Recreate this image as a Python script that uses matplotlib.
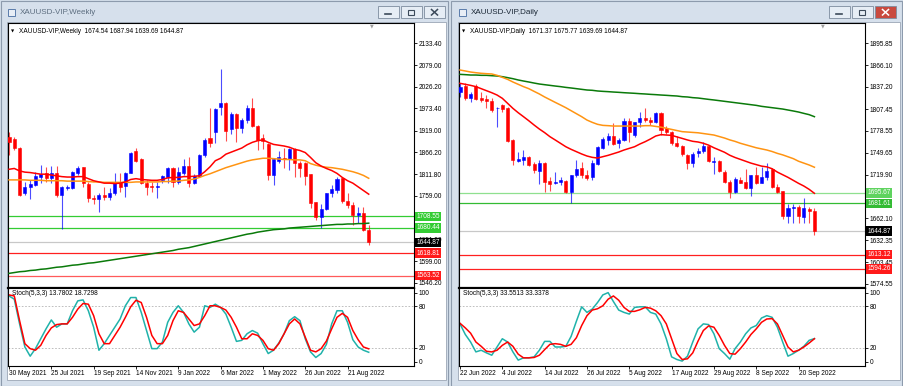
import numpy as np
import matplotlib
matplotlib.use('Agg')
import matplotlib.pyplot as plt
from matplotlib.patches import Rectangle
import matplotlib.transforms as mtransforms

plt.rcParams['font.family'] = ['Liberation Sans', 'DejaVu Sans']

# ---------------- weekly chart data (30 May 2021 .. 18 Sep 2022) ----------------
w_open = [1902, 1898, 1877, 1765, 1780, 1785, 1806, 1814, 1802, 1814,
          1761, 1778, 1778, 1816, 1829, 1788, 1754, 1750, 1761, 1757,
          1767, 1792, 1783, 1816, 1870, 1848, 1790, 1783, 1780, 1798,
          1806, 1828, 1794, 1816, 1833, 1791, 1808, 1859, 1900, 1916,
          1976, 1987, 1923, 1959, 1924, 1945, 1973, 1931, 1900, 1886,
          1810, 1845, 1851, 1849, 1873, 1839, 1839, 1812, 1745, 1706,
          1726, 1765, 1773, 1802, 1747, 1737, 1712, 1716, 1674.54]
w_high = [1916, 1902, 1878, 1794, 1798, 1818, 1834, 1830, 1832, 1832,
          1782, 1786, 1820, 1832, 1830, 1794, 1761, 1765, 1781, 1777,
          1814, 1814, 1817, 1867, 1875, 1851, 1798, 1794, 1794, 1810,
          1830, 1830, 1829, 1848, 1855, 1812, 1861, 1900, 1973, 1973,
          2070, 1990, 1965, 1961, 1949, 1981, 1999, 1932, 1910, 1888,
          1851, 1870, 1875, 1875, 1875, 1845, 1843, 1812, 1745, 1739,
          1767, 1785, 1806, 1802, 1765, 1745, 1732, 1732, 1687.94]
w_low = [1860, 1871, 1758, 1761, 1750, 1783, 1791, 1794, 1791, 1757,
         1677, 1773, 1775, 1810, 1781, 1745, 1738, 1720, 1749, 1749,
         1761, 1769, 1757, 1814, 1843, 1788, 1761, 1769, 1753, 1790,
         1790, 1781, 1788, 1810, 1781, 1788, 1804, 1855, 1878, 1889,
         1957, 1894, 1910, 1892, 1914, 1937, 1928, 1871, 1873, 1798,
         1785, 1839, 1826, 1822, 1804, 1804, 1785, 1728, 1700, 1679,
         1724, 1757, 1767, 1742, 1728, 1688, 1692, 1674, 1639.69]
w_close = [1890, 1875, 1761, 1781, 1787, 1808, 1812, 1802, 1814, 1761,
           1781, 1781, 1818, 1828, 1790, 1754, 1750, 1761, 1757, 1767,
           1794, 1781, 1816, 1865, 1845, 1790, 1781, 1781, 1783, 1808,
           1828, 1794, 1818, 1832, 1790, 1808, 1859, 1896, 1888, 1971,
           1987, 1919, 1959, 1924, 1945, 1973, 1930, 1896, 1894, 1810,
           1848, 1853, 1848, 1873, 1840, 1826, 1808, 1742, 1706, 1726,
           1767, 1776, 1799, 1747, 1737, 1712, 1716, 1675, 1644.87]
w_ma_red = [1824, 1826, 1820, 1817, 1816, 1814, 1812, 1812, 1810, 1808,
            1806, 1805, 1805, 1806, 1806, 1801, 1796, 1793, 1790, 1790,
            1789, 1790, 1793, 1799, 1801, 1799, 1798, 1797, 1797, 1799,
            1803, 1804, 1804, 1806, 1806, 1807, 1808, 1818, 1830, 1845,
            1851, 1861, 1866, 1871, 1876, 1884, 1890, 1894, 1896, 1890,
            1885, 1883, 1881, 1878, 1873, 1870, 1865, 1853, 1840, 1832,
            1826, 1821, 1814, 1804, 1796, 1790, 1781, 1772, 1763]
w_ma_orange = [1798, 1798, 1798, 1798, 1797, 1797, 1797, 1796, 1796, 1796,
               1796, 1795, 1795, 1795, 1795, 1794, 1793, 1793, 1792, 1792,
               1792, 1792, 1792, 1792, 1793, 1793, 1793, 1793, 1793, 1794,
               1794, 1795, 1795, 1797, 1798, 1800, 1804, 1809, 1813, 1818,
               1823, 1828, 1832, 1836, 1840, 1844, 1847, 1849, 1851, 1851,
               1850, 1849, 1848, 1848, 1847, 1847, 1845, 1838, 1834, 1831,
               1829, 1828, 1826, 1824, 1821, 1818, 1814, 1809, 1802]
w_ma_green = [1569, 1571, 1573, 1574, 1576, 1577, 1579, 1580, 1582, 1584,
              1585, 1587, 1589, 1590, 1592, 1594, 1595, 1597, 1599, 1601,
              1603, 1605, 1607, 1609, 1611, 1613, 1615, 1617, 1619, 1621,
              1623, 1625, 1628, 1630, 1632, 1635, 1638, 1641, 1644, 1647,
              1650, 1653, 1656, 1659, 1662, 1665, 1667, 1670, 1672, 1674,
              1676, 1677, 1678, 1680, 1681, 1682, 1683, 1684, 1685, 1686,
              1687, 1688, 1689, 1689, 1690, 1690, 1691, 1691, 1692]
w_stoch_k = [95.2, 90.5, 54.8, 21.4, 8.1, 19.0, 33.3, 47.6, 60.5, 50.0,
             54.8, 54.8, 73.8, 88.1, 89.5, 73.8, 50.0, 16.7, 26.2, 38.1,
             50.0, 61.9, 81.0, 92.9, 92.9, 71.4, 45.2, 19.0, 19.0, 28.6,
             57.1, 71.4, 81.0, 71.4, 54.8, 42.9, 50.0, 81.0, 78.6, 83.3,
             78.6, 69.0, 50.0, 29.5, 31.0, 40.5, 45.2, 41.4, 26.2, 11.9,
             16.7, 27.1, 40.5, 59.5, 65.2, 59.5, 33.3, 14.3, 6.2, 11.9,
             25.2, 54.8, 73.8, 73.8, 57.1, 31.9, 21.4, 16.7, 13.7802]
w_stoch_d = [96.7, 95.2, 59.5, 26.2, 19.0, 16.7, 23.8, 38.1, 49.0, 53.8,
             54.8, 54.8, 64.3, 76.2, 84.3, 83.3, 66.7, 40.5, 26.2, 26.2,
             38.1, 50.0, 64.3, 79.5, 89.0, 85.7, 64.3, 38.1, 26.2, 26.2,
             38.1, 59.5, 73.8, 71.4, 61.9, 52.4, 54.8, 66.7, 81.0, 81.0,
             78.6, 74.8, 64.3, 50.0, 33.3, 33.3, 40.5, 38.1, 31.0, 19.0,
             16.7, 26.2, 40.5, 54.8, 61.9, 54.8, 35.7, 16.7, 14.3, 19.0,
             30.0, 47.6, 64.3, 70.0, 64.3, 45.2, 31.9, 21.4, 18.7298]
w_dates = ['30 May 2021', '25 Jul 2021', '19 Sep 2021', '14 Nov 2021', '9 Jan 2022',
           '6 Mar 2022', '1 May 2022', '26 Jun 2022', '21 Aug 2022']
w_yticks = [2133.40, 2079.00, 2026.20, 1973.40, 1919.00, 1866.20, 1811.80,
            1759.00, 1651.80, 1599.00, 1546.20]
w_levels = [1708.55, 1680.44, 1618.81, 1563.52]

# ---------------- daily chart data (22 Jun 2022 .. 23 Sep 2022) ----------------
d_open = [1830.9, 1838.9, 1822.0, 1838.9, 1822.9, 1820.7, 1818.4, 1808.6, 1813.1, 1808.6,
          1766.4, 1738.8, 1739.7, 1743.2, 1734.3, 1725.0, 1736.1, 1711.6, 1708.5, 1709.8,
          1711.6, 1696.5, 1719.6, 1728.5, 1719.6, 1717.4, 1733.9, 1756.1, 1766.4, 1772.1,
          1761.9, 1766.4, 1791.7, 1773.0, 1789.9, 1796.2, 1793.1, 1789.9, 1802.8, 1781.9,
          1777.5, 1762.8, 1758.3, 1746.3, 1736.1, 1748.5, 1752.1, 1758.3, 1737.4, 1738.8,
          1724.1, 1710.7, 1697.4, 1713.0, 1710.7, 1701.8, 1719.6, 1709.4, 1717.4, 1727.2,
          1704.0, 1698.3, 1665.3, 1675.1, 1677.4, 1664.0, 1673.8, 1671.37]
d_high = [1842.0, 1842.0, 1830.9, 1840.7, 1830.9, 1826.4, 1822.0, 1810.9, 1814.0, 1810.9,
          1767.7, 1749.9, 1753.0, 1745.4, 1737.4, 1739.7, 1737.4, 1717.4, 1724.1, 1717.4,
          1713.0, 1719.6, 1739.7, 1737.4, 1726.3, 1739.7, 1758.3, 1770.8, 1775.2, 1788.6,
          1768.6, 1795.3, 1795.3, 1790.8, 1804.2, 1808.6, 1797.5, 1804.2, 1804.2, 1785.0,
          1778.8, 1771.7, 1759.7, 1747.7, 1750.8, 1755.2, 1764.1, 1759.7, 1744.1, 1739.7,
          1726.3, 1713.0, 1717.4, 1717.4, 1727.2, 1719.6, 1730.7, 1730.7, 1736.1, 1728.5,
          1707.6, 1698.3, 1680.9, 1680.9, 1679.6, 1688.5, 1677.4, 1675.77]
d_low = [1824.2, 1819.8, 1816.6, 1819.8, 1816.6, 1808.6, 1804.2, 1784.2, 1804.2, 1764.1,
         1733.0, 1737.4, 1733.0, 1732.1, 1721.9, 1707.2, 1697.4, 1698.3, 1707.2, 1706.3,
         1695.2, 1681.8, 1717.4, 1715.2, 1713.0, 1713.0, 1733.0, 1754.3, 1759.7, 1759.7,
         1755.2, 1765.0, 1764.1, 1770.8, 1784.2, 1790.8, 1786.4, 1788.6, 1773.0, 1774.4,
         1759.7, 1756.6, 1745.0, 1727.2, 1730.7, 1744.1, 1749.4, 1737.4, 1720.9, 1724.1,
         1708.5, 1688.5, 1695.2, 1708.5, 1700.5, 1691.6, 1707.6, 1708.5, 1713.0, 1701.8,
         1695.2, 1660.4, 1655.1, 1655.1, 1655.1, 1655.1, 1655.1, 1639.69]
d_close = [1837.6, 1822.0, 1827.3, 1821.1, 1819.8, 1818.4, 1806.4, 1809.5, 1807.3, 1765.0,
           1739.7, 1741.0, 1744.1, 1733.0, 1726.3, 1735.2, 1709.8, 1707.2, 1710.7, 1713.0,
           1696.5, 1719.6, 1727.7, 1719.6, 1715.2, 1735.2, 1757.5, 1767.7, 1772.1, 1760.6,
           1766.4, 1791.7, 1777.5, 1789.9, 1796.2, 1793.1, 1789.9, 1801.9, 1779.7, 1777.5,
           1761.9, 1758.3, 1747.7, 1736.1, 1747.7, 1752.1, 1758.3, 1738.8, 1738.8, 1725.4,
           1710.7, 1697.4, 1713.8, 1709.4, 1701.8, 1719.6, 1709.4, 1717.4, 1725.4, 1704.0,
           1697.4, 1665.3, 1675.1, 1677.4, 1665.3, 1675.1, 1672.0, 1644.87]
d_ma_red = [1842.0, 1840.7, 1839.3, 1837.6, 1834.9, 1832.2, 1829.5, 1826.4, 1822.0, 1815.3,
            1808.6, 1802.8, 1797.5, 1792.1, 1786.4, 1781.0, 1776.2, 1770.8, 1766.4, 1761.9,
            1757.4, 1753.9, 1750.8, 1747.7, 1745.0, 1743.2, 1742.3, 1744.1, 1745.9, 1748.1,
            1750.3, 1753.0, 1755.2, 1757.4, 1761.0, 1764.1, 1767.7, 1771.7, 1773.5, 1773.0,
            1772.6, 1770.5, 1768.5, 1766.4, 1764.6, 1763.7, 1762.0, 1759.5, 1756.0, 1753.0,
            1750.0, 1746.0, 1743.0, 1740.5, 1738.0, 1735.5, 1733.5, 1731.5, 1730.5, 1728.0,
            1723.5, 1720.0, 1716.5, 1712.5, 1708.5, 1704.9, 1700.5, 1695.2]
d_ma_orange = [1859.8, 1858.5, 1857.1, 1856.2, 1855.4, 1854.9, 1854.5, 1852.7, 1850.0, 1847.3,
               1843.8, 1840.7, 1837.6, 1834.9, 1831.3, 1827.8, 1823.8, 1820.2, 1816.6, 1813.1,
               1809.5, 1805.5, 1801.5, 1797.5, 1793.0, 1789.9, 1787.3, 1785.9, 1785.5, 1785.0,
               1785.0, 1785.0, 1785.0, 1785.0, 1785.0, 1785.5, 1785.5, 1784.5, 1783.5, 1782.0,
               1780.5, 1779.0, 1777.5, 1777.0, 1776.5, 1776.0, 1775.0, 1774.0, 1773.0, 1771.0,
               1769.0, 1766.5, 1764.5, 1762.0, 1760.0, 1758.0, 1756.0, 1754.5, 1753.0, 1751.0,
               1748.5, 1746.5, 1744.0, 1741.5, 1738.0, 1735.5, 1733.0, 1730.0]
d_ma_green = [1854.0, 1853.6, 1853.1, 1853.1, 1852.7, 1852.7, 1852.2, 1851.8, 1850.9, 1849.6,
              1848.2, 1846.5, 1845.1, 1843.8, 1842.4, 1841.1, 1840.2, 1839.3, 1838.4, 1837.6,
              1836.6, 1835.8, 1834.9, 1834.0, 1833.1, 1832.7, 1831.8, 1831.3, 1830.9, 1830.4,
              1830.0, 1829.5, 1829.1, 1828.7, 1828.2, 1827.8, 1827.3, 1826.9, 1826.4, 1826.0,
              1825.5, 1825.1, 1824.2, 1823.8, 1822.9, 1822.4, 1821.5, 1820.6, 1819.8, 1818.9,
              1818.0, 1817.1, 1816.2, 1815.3, 1814.4, 1813.5, 1812.6, 1811.3, 1810.4, 1809.5,
              1808.6, 1807.7, 1806.4, 1805.1, 1803.7, 1801.9, 1800.2, 1797.5]
d_stoch_k = [54.8, 39.5, 28.6, 14.3, 16.7, 12.9, 9.5, 21.4, 33.3, 28.6,
             14.3, 2.4, 5.7, 5.7, 7.1, 16.7, 29.5, 29.5, 21.4, 21.4,
             22.4, 36.7, 58.6, 79.5, 71.4, 76.2, 85.7, 96.7, 100.0, 87.1,
             74.8, 71.4, 69.0, 78.6, 79.5, 79.5, 71.4, 69.0, 54.8, 33.3,
             7.1, 3.3, 1.0, 8.1, 28.6, 47.6, 54.8, 53.8, 40.5, 19.0,
             11.9, 3.8, 19.0, 28.6, 40.5, 49.0, 52.4, 63.3, 66.7, 64.3,
             50.0, 28.6, 8.1, 11.9, 16.7, 22.4, 31.0, 33.5513]
d_stoch_d = [55.7, 49.0, 41.4, 28.6, 22.4, 15.2, 14.3, 16.7, 23.8, 28.6,
             22.4, 11.0, 5.7, 5.7, 6.2, 9.5, 17.6, 25.2, 26.2, 25.2,
             22.4, 25.2, 34.8, 52.4, 66.7, 74.8, 76.7, 81.0, 90.5, 95.2,
             89.0, 78.6, 72.9, 72.9, 75.2, 78.6, 77.6, 73.8, 66.7, 54.8,
             33.3, 11.9, 3.3, 4.3, 12.9, 30.0, 45.2, 51.9, 50.0, 38.1,
             23.8, 11.9, 11.0, 19.0, 28.6, 39.5, 47.6, 57.1, 61.9, 62.4,
             54.8, 38.1, 21.4, 14.3, 16.7, 21.4, 27.1, 33.3378]
d_dates = ['22 Jun 2022', '4 Jul 2022', '14 Jul 2022', '26 Jul 2022', '5 Aug 2022',
           '17 Aug 2022', '29 Aug 2022', '8 Sep 2022', '20 Sep 2022']
d_yticks = [1895.85, 1866.10, 1837.20, 1807.45, 1778.55, 1749.65, 1719.90,
            1662.10, 1632.35, 1603.45, 1574.55]
d_levels = [1695.67, 1681.61, 1613.12, 1594.26]

FS = 4.7
W, H = 904, 386
fig = plt.figure(figsize=(W / 100, H / 100), dpi=100)
fig.patch.set_facecolor('#d3deea')


def px_axes(x0, y0, x1, y1):
    return fig.add_axes([x0 / W, 1 - y1 / H, (x1 - x0) / W, (y1 - y0) / H])


# window chrome
bg = px_axes(0, 0, W, H)
bg.set_xlim(0, W)
bg.set_ylim(H, 0)
bg.axis('off')
for wx0, wx1, active, title in [(0, 449, False, 'XAUUSD-VIP,Weekly'),
                                (451, 903, True, 'XAUUSD-VIP,Daily')]:
    bg.add_patch(Rectangle((wx0 + 0.5, 0.5), wx1 - wx0 - 1, H - 1, facecolor='#d6e0ec',
                           edgecolor='#8d9bad', lw=0.8))
    bg.add_patch(Rectangle((wx0 + 7, 21.5), wx1 - wx0 - 10, 358.5, facecolor='white',
                           edgecolor='#9aa6b5', lw=0.6))
    bg.add_patch(Rectangle((wx0 + 8, 9), 7, 7, facecolor='#e8eef6', edgecolor='#5a7cab', lw=0.7))
    bg.text(wx0 + 20, 12.5, title, fontsize=5.8, va='center', ha='left',
            color='#1b2836' if active else '#5d6e80')
    for k, (b0, b1) in enumerate([(378, 399), (401, 422), (424, 445)]):
        fc = '#c94a3f' if (active and k == 2) else '#e6edf5'
        bg.add_patch(Rectangle((wx0 + b0, 6), b1 - b0, 12, facecolor=fc,
                               edgecolor='#7d8c9e', lw=0.6))
        cx = wx0 + (b0 + b1) / 2
        gc = 'white' if (active and k == 2) else '#3c4a5a'
        if k == 0:
            bg.plot([cx - 3, cx + 3], [14, 14], color=gc, lw=1.2)
        elif k == 1:
            bg.add_patch(Rectangle((cx - 3, 9.5), 6, 5, facecolor='none', edgecolor=gc, lw=0.8))
        else:
            bg.plot([cx - 3, cx + 3], [9.5, 15], color=gc, lw=1.1)
            bg.plot([cx - 3, cx + 3], [15, 9.5], color=gc, lw=1.1)


def chart(px, o, h, l, c, ma_r, ma_o, ma_g, sk, sd, ylim, yticks, levels, level_cols,
          header, stoch_head, dates):
    o, h, l, c = map(np.asarray, (o, h, l, c))
    x = np.arange(len(c))
    ax = px_axes(px, 23, px + 406, 288)
    st = px_axes(px, 288, px + 406, 366)
    xlim = (-0.19, 76.56)

    # level lines
    for lv, (lc, bc) in zip(levels, level_cols):
        ax.axhline(lv, color=lc, lw=0.9, zorder=1)
    ax.axhline(c[-1], color='#c8c8c8', lw=0.9, zorder=1)

    # candles
    up = c >= o
    col = np.where(up, '#0000ff', '#ff0000')
    ax.vlines(x, l, h, colors=col, lw=0.8, alpha=0.7, zorder=2)
    ax.bar(x, np.abs(c - o), bottom=np.minimum(o, c), width=0.58, color=col,
           edgecolor=col, lw=0.4, zorder=3)

    # moving averages
    ax.plot(x, ma_g, color='#0a7a0a', lw=1.1, zorder=4)
    ax.plot(x, ma_o, color='#ff9412', lw=1.1, zorder=4)
    ax.plot(x, ma_r, color='#ff0000', lw=1.1, zorder=4)

    ax.set_xlim(*xlim)
    ax.set_ylim(*ylim)
    ax.set_xticks([])
    ax.yaxis.tick_right()
    ax.set_yticks(yticks)
    ax.set_yticklabels(['%.2f' % v for v in yticks])
    ax.tick_params(axis='y', labelsize=FS, length=2, width=0.6, pad=1.2, colors='black')
    for s in ax.spines.values():
        s.set_linewidth(0.8)
    ax.spines['bottom'].set_linewidth(1.6)

    tr = mtransforms.blended_transform_factory(ax.transAxes, ax.transData)
    for lv, (lc, bc) in zip(levels, level_cols):
        ax.text(1.006, lv, '%.2f' % lv, transform=tr, fontsize=FS, color='white',
                ha='left', va='center', zorder=10, clip_on=False,
                bbox=dict(boxstyle='square,pad=0.18', facecolor=bc, edgecolor='none'))
    ax.text(1.006, c[-1], '%.2f' % c[-1], transform=tr, fontsize=FS, color='white',
            ha='left', va='center', zorder=10, clip_on=False,
            bbox=dict(boxstyle='square,pad=0.18', facecolor='black', edgecolor='none'))

    ax.text(0.008, 0.975, '\u25bc', transform=ax.transAxes, fontsize=3, ha='left',
            va='top', color='black', family='DejaVu Sans')
    ax.text(0.027, 0.98, header, transform=ax.transAxes, fontsize=FS, ha='left', va='top')
    ax.text(0.897, 1.0, '\u25bc', transform=ax.transAxes, fontsize=3.5, ha='center',
            va='top', color='#a0a0a0', family='DejaVu Sans')

    # stochastic
    st.axhline(80, color='#b4b4b4', lw=0.6, ls=(0, (2, 2)))
    st.axhline(20, color='#b4b4b4', lw=0.6, ls=(0, (2, 2)))
    st.plot(x, sk, color='#20b2aa', lw=1.1)
    st.plot(x, sd, color='#ff0000', lw=1.1)
    st.set_xlim(*xlim)
    st.set_ylim(-6.1, 106.7)
    st.yaxis.tick_right()
    st.set_yticks([0, 20, 80, 100])
    st.set_yticklabels(['0', '20', '80', '100'])
    st.tick_params(axis='y', labelsize=FS, length=2, width=0.6, pad=1.2)
    st.set_xticks(np.arange(0, 8 * len(dates), 8))
    st.set_xticklabels(dates)
    st.tick_params(axis='x', labelsize=FS, length=2, width=0.6, pad=1.0)
    for t in st.get_xticklabels():
        t.set_ha('left')
    for s in st.spines.values():
        s.set_linewidth(0.8)
    st.text(0.01, 0.97, stoch_head, transform=st.transAxes, fontsize=FS, ha='left', va='top')


chart(8, w_open, w_high, w_low, w_close, w_ma_red, w_ma_orange, w_ma_green,
      w_stoch_k, w_stoch_d, (1533.15, 2182.4), w_yticks, w_levels,
      [('#33cc33', '#33cc33'), ('#33cc33', '#33cc33'), ('#ff2020', '#ff1a1a'),
       ('#ff5a5a', '#ff1a1a')],
      'XAUUSD-VIP,Weekly  1674.54 1687.94 1639.69 1644.87',
      'Stoch(5,3,3) 13.7802 18.7298', w_dates)
chart(459, d_open, d_high, d_low, d_close, d_ma_red, d_ma_orange, d_ma_green,
      d_stoch_k, d_stoch_d, (1568.8, 1922.55), d_yticks, d_levels,
      [('#8fe08f', '#5fd35f'), ('#33bb33', '#33bb33'), ('#ff2020', '#ff1a1a'),
       ('#ff2020', '#ff1a1a')],
      'XAUUSD-VIP,Daily  1671.37 1675.77 1639.69 1644.87',
      'Stoch(5,3,3) 33.5513 33.3378', d_dates)

fig.savefig('out.png', dpi=100, facecolor=fig.get_facecolor())
